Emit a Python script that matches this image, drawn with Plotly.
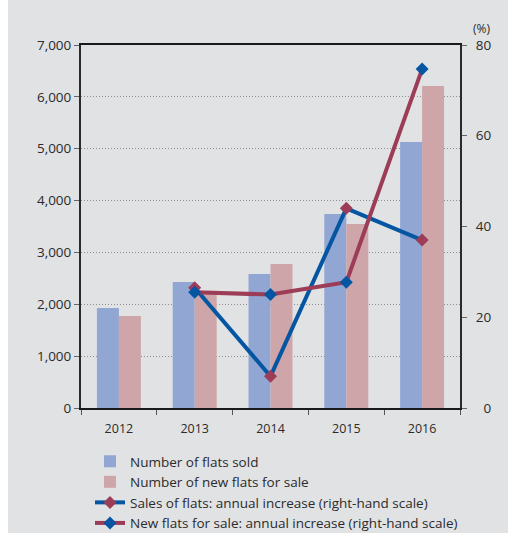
import plotly.graph_objects as go

years = ["2012", "2013", "2014", "2015", "2016"]
flats_sold = [1930, 2430, 2585, 3740, 5130]
new_flats_for_sale = [1775, 2230, 2775, 3550, 6210]
line_years = ["2013", "2014", "2015", "2016"]
sales_increase = [26.5, 7.0, 44.0, 37.0]
new_flats_increase = [25.5, 25.0, 27.7, 74.7]
left_ticks = [0, 1000, 2000, 3000, 4000, 5000, 6000, 7000]
left_ticktext = ["0", "1,000", "2,000", "3,000", "4,000", "5,000", "6,000", "7,000"]
right_ticks = [0, 20, 40, 60, 80]
right_ticktext = ["\u20070", "20", "40", "60", "80"]

BLUE_BAR = "#91a6d2"
PINK_BAR = "#cea5a8"
BLUE_LINE = "#0556a2"
RED_LINE = "#9c3c57"
TXT = "#2b2b2b"
FONT = "Open Sans"

W, H = 508, 533
L, R, T, B = 81, 48, 45, 125
PW, PH = W - L - R, H - T - B

fig = go.Figure()
fig.add_trace(go.Bar(x=years, y=flats_sold, name="Number of flats sold",
                     marker=dict(color=BLUE_BAR, line=dict(width=0))))
fig.add_trace(go.Bar(x=years, y=new_flats_for_sale, name="Number of new flats for sale",
                     marker=dict(color=PINK_BAR, line=dict(width=0))))
fig.add_trace(go.Scatter(x=line_years, y=sales_increase, yaxis="y2", mode="lines+markers",
                         name="Sales of flats: annual increase (right-hand scale)",
                         line=dict(color=BLUE_LINE, width=4),
                         marker=dict(symbol="diamond", size=10, color=RED_LINE)))
fig.add_trace(go.Scatter(x=line_years, y=new_flats_increase, yaxis="y2", mode="lines+markers",
                         name="New flats for sale: annual increase (right-hand scale)",
                         line=dict(color=RED_LINE, width=4),
                         marker=dict(symbol="diamond", size=10, color=BLUE_LINE)))

fig.update_layout(
    template="none",
    width=W, height=H,
    margin=dict(l=L, r=R, t=T, b=B, pad=0, autoexpand=False),
    paper_bgcolor="#e1e2e4", plot_bgcolor="#e1e2e4",
    font=dict(family=FONT, size=13, color=TXT),
    barmode="group", bargap=0.42, bargroupgap=0,
    showlegend=True,
    legend=dict(xref="container", yref="container", x=90 / W, xanchor="left",
                y=1 - 446 / H, yanchor="top",
                bgcolor="rgba(0,0,0,0)", borderwidth=0,
                font=dict(family=FONT, size=13.5, color=TXT), tracegroupgap=0),
    xaxis=dict(type="category", showgrid=False, showline=True, linecolor="#1a1a1a", linewidth=2,
               mirror=True, ticks="outside", tickson="boundaries", ticklen=5, tickcolor="#555",
               ticklabelstandoff=8, tickfont=dict(size=12.5), zeroline=False, automargin=False),
    yaxis=dict(range=[0, 7000], tickvals=left_ticks, ticktext=left_ticktext,
               showgrid=True, gridcolor="#8f8f8f", griddash="1px,2px", gridwidth=1,
               showline=True, linecolor="#2a2a2a", linewidth=2,
               ticks="outside", ticklen=5, tickcolor="#666", zeroline=False,
               tickfont=dict(size=13.5), automargin=False),
    yaxis2=dict(range=[0, 80], overlaying="y", side="right", tickvals=right_ticks,
                ticktext=right_ticktext, showgrid=False, showline=True, linecolor="#2a2a2a",
                linewidth=2, ticks="outside", ticklen=5, tickcolor="#666", zeroline=False,
                ticklabelstandoff=6, tickfont=dict(size=13.5), automargin=False),
    shapes=[dict(type="rect", xref="paper", yref="paper", x0=-L / PW, x1=(8 - L) / PW,
                 y0=-B / PH, y1=1 + T / PH, fillcolor="white", line=dict(width=0), layer="below")],
    annotations=[dict(text="(%)", xref="paper", yref="paper", x=(481 - L) / PW, y=1 + 17 / PH,
                      xanchor="center", yanchor="middle", showarrow=False,
                      font=dict(size=12, color=TXT))],
)

fig.write_html("out.html", config={"displayModeBar": False},
               post_script="document.body.style.margin='0';document.body.style.background='#e1e2e4';")
